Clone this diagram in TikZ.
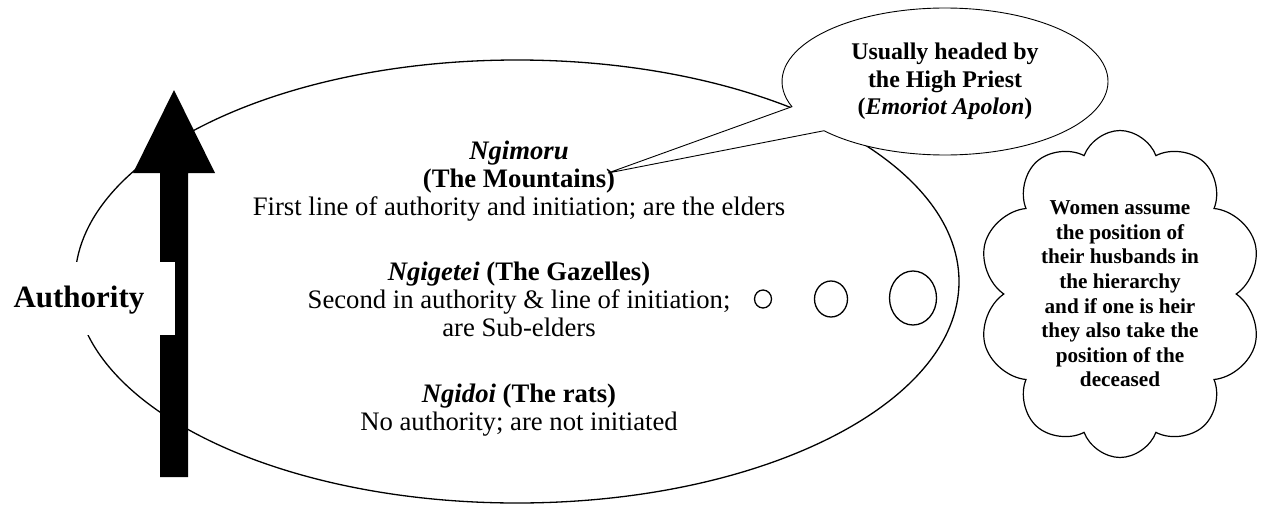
\documentclass[tikz,border=0pt]{standalone}
\usepackage{fontspec}
\setmainfont{Liberation Serif}
\usetikzlibrary{shapes.geometric,shapes.callouts,shapes.symbols}
\begin{document}
\begin{tikzpicture}[x=1pt,y=-1pt,
  thinline/.style={draw=black, line width=1.3pt},
  lbl/.style={align=center, inner sep=0pt, font=\fontsize{26.7}{28}\selectfont},
  bubble/.style={ellipse, thinline, inner sep=0pt}]
\fill[white] (0,0) rectangle (1273,506);
\useasboundingbox (0,0) rectangle (1273,506);

% main hierarchy ellipse
\node (hier) [ellipse, thinline, minimum width=884, minimum height=443, inner sep=0pt] at (517,281.5) {};

% authority arrow
\fill[black] (160,477) -- (160,173) -- (133,173) -- (174,90) -- (215,173) -- (188,173) -- (188,477) -- cycle;

% authority label (white box covers the ellipse and part of the shaft)
\fill[white] (5,262) rectangle (175,335);
\node (auth) [inner sep=0pt, anchor=base, font=\bfseries\fontsize{31}{36}\selectfont] at (79,307) {Authority};

% levels
\node (mtn) [lbl] at (519,181) {\textbf{\textit{Ngimoru}}\\\textbf{(The Mountains)}\\First line of authority and initiation; are the elders};
\node (gaz) [lbl] at (519,299) {\textbf{\textit{Ngigetei} (The Gazelles)}\\Second in authority \& line of initiation;\\are Sub-elders};
\node (rats) [lbl] at (519,410) {\textbf{\textit{Ngidoi} (The rats)}\\No authority; are not initiated};

% thought bubbles
\node (b1) [bubble, minimum width=17, minimum height=18] at (763,299) {};
\node (b2) [bubble, minimum width=33, minimum height=36] at (831,299) {};
\node (b3) [bubble, minimum width=47, minimum height=54] at (913,298) {};

% callout
\node (priest) [ellipse callout, draw=black, fill=white, line width=0.9pt,
  callout absolute pointer={(608,173)}, callout pointer arc=22,
  minimum width=326, minimum height=147, inner sep=0pt, align=center,
  font=\bfseries\fontsize{23.9}{27.5}\selectfont] at (945,81.5)
  {Usually headed by\\the High Priest\\(\textit{Emoriot Apolon})};

% cloud
\node (women) [cloud, draw=black, line width=1.2pt, cloud puffs=10, cloud puff arc=140, aspect=0.87,
  minimum width=284, minimum height=327, inner sep=0pt, align=center,
  font=\bfseries\fontsize{21.2}{24.6}\selectfont] at (1120,294)
  {Women assume\\the position of\\their husbands in\\the hierarchy\\and if one is heir\\they also take the\\position of the\\deceased};
\end{tikzpicture}
\end{document}
